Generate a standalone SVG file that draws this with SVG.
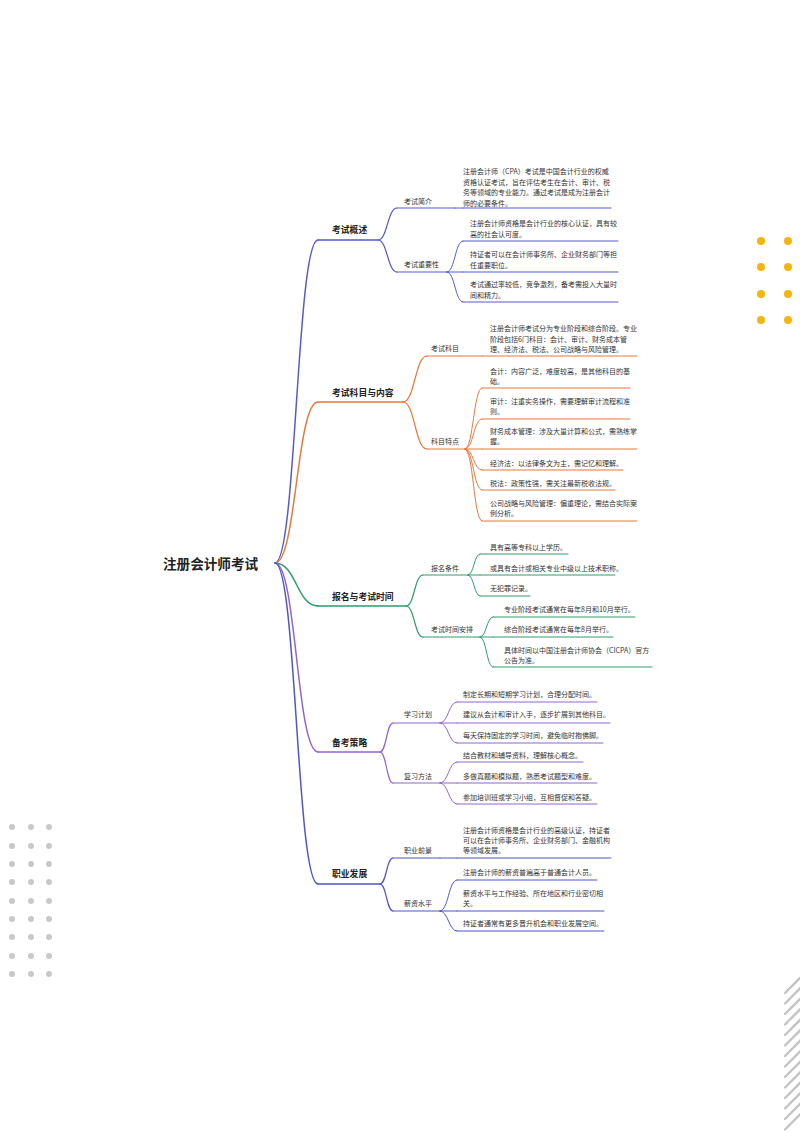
<svg xmlns="http://www.w3.org/2000/svg" width="800" height="1132" viewBox="0 0 800 1132">
<style>
text{font-family:"Noto Sans CJK SC","Liberation Sans",sans-serif;fill:#333;dominant-baseline:central}
.root{font-size:13.6px;font-weight:bold;fill:#222}
.l1{font-size:8.8px;font-weight:bold;fill:#222}
.l2{font-size:7px}
.lf{font-size:7px}
path,line{fill:none;stroke-linecap:round}
.c1{stroke:#555bcc}.c2{stroke:#e8783c}.c3{stroke:#2e9c6a}.c4{stroke:#8e66cc}.c5{stroke:#4f57c6}
.w1{stroke-width:1.5}.w2{stroke-width:1.2}.w3{stroke-width:1}
.ydot{fill:#f6b50e}.gdot{fill:#c9c9c9}
.stripe{stroke:#c4c4c4;stroke-width:2.4}
</style>
<rect width="800" height="1132" fill="#fff"/>
<g id="decor">
<g id="yellow-dots">
<circle class="ydot" cx="761" cy="241" r="4"/><circle class="ydot" cx="788" cy="241" r="4"/>
<circle class="ydot" cx="761" cy="267" r="4"/><circle class="ydot" cx="788" cy="267" r="4"/>
<circle class="ydot" cx="761" cy="294" r="4"/><circle class="ydot" cx="788" cy="294" r="4"/>
<circle class="ydot" cx="761" cy="320" r="4"/><circle class="ydot" cx="788" cy="320" r="4"/>
</g>
<g id="gray-dots">
<circle class="gdot" cx="12" cy="827" r="3"/><circle class="gdot" cx="31" cy="827" r="3"/><circle class="gdot" cx="49" cy="827" r="3"/>
<circle class="gdot" cx="12" cy="846" r="3"/><circle class="gdot" cx="31" cy="846" r="3"/><circle class="gdot" cx="49" cy="846" r="3"/>
<circle class="gdot" cx="12" cy="864" r="3"/><circle class="gdot" cx="31" cy="864" r="3"/><circle class="gdot" cx="49" cy="864" r="3"/>
<circle class="gdot" cx="12" cy="882" r="3"/><circle class="gdot" cx="31" cy="882" r="3"/><circle class="gdot" cx="49" cy="882" r="3"/>
<circle class="gdot" cx="12" cy="901" r="3"/><circle class="gdot" cx="31" cy="901" r="3"/><circle class="gdot" cx="49" cy="901" r="3"/>
<circle class="gdot" cx="12" cy="919" r="3"/><circle class="gdot" cx="31" cy="919" r="3"/><circle class="gdot" cx="49" cy="919" r="3"/>
<circle class="gdot" cx="12" cy="937" r="3"/><circle class="gdot" cx="31" cy="937" r="3"/><circle class="gdot" cx="49" cy="937" r="3"/>
<circle class="gdot" cx="12" cy="956" r="3"/><circle class="gdot" cx="31" cy="956" r="3"/><circle class="gdot" cx="49" cy="956" r="3"/>
<circle class="gdot" cx="12" cy="974" r="3"/><circle class="gdot" cx="31" cy="974" r="3"/><circle class="gdot" cx="49" cy="974" r="3"/>
</g>
<g id="stripes">
<line class="stripe" x1="785" y1="993" x2="802" y2="976"/>
<line class="stripe" x1="785" y1="1003.5" x2="802" y2="986.5"/>
<line class="stripe" x1="785" y1="1014" x2="802" y2="997"/>
<line class="stripe" x1="785" y1="1024.5" x2="802" y2="1007.5"/>
<line class="stripe" x1="785" y1="1035" x2="802" y2="1018"/>
<line class="stripe" x1="785" y1="1045.5" x2="802" y2="1028.5"/>
<line class="stripe" x1="785" y1="1056" x2="802" y2="1039"/>
<line class="stripe" x1="785" y1="1066.5" x2="802" y2="1049.5"/>
<line class="stripe" x1="785" y1="1077" x2="802" y2="1060"/>
<line class="stripe" x1="785" y1="1087.5" x2="802" y2="1070.5"/>
<line class="stripe" x1="785" y1="1098" x2="802" y2="1081"/>
<line class="stripe" x1="785" y1="1108.5" x2="802" y2="1091.5"/>
<line class="stripe" x1="785" y1="1119" x2="802" y2="1102"/>
<line class="stripe" x1="785" y1="1129.5" x2="802" y2="1112.5"/>
</g>
</g>
<g id="connectors">
<path class="c1 w1" d="M275 563 C296.5 563 296.5 240 318 240"/>
<path class="c2 w1" d="M275 563 C296.5 563 296.5 402 318 402"/>
<path class="c3 w1" d="M275 563 C296.5 563 296.5 606 318 606"/>
<path class="c4 w1" d="M275 563 C296.5 563 296.5 752 318 752"/>
<path class="c5 w1" d="M275 563 C296.5 563 296.5 884 318 884"/>
<path class="c1 w2" d="M378 240 C387.5 240 387.5 208 397 208"/>
<path class="c1 w2" d="M378 240 C387.5 240 387.5 272 397 272"/>
<path class="c1 w3" d="M455 208 L463 208"/>
<path class="c1 w3" d="M447 272 C455 272 455 241 463 241"/>
<path class="c1 w3" d="M447 272 L463 272"/>
<path class="c1 w3" d="M447 272 C455 272 455 302 463 302"/>
<path class="c2 w2" d="M403 402 C415 402 415 356 427 356"/>
<path class="c2 w2" d="M403 402 C415 402 415 449 427 449"/>
<path class="c2 w3" d="M460 356 L482 356"/>
<path class="c2 w3" d="M465 449 C473.5 449 473.5 388 482 388"/>
<path class="c2 w3" d="M465 449 C473.5 449 473.5 419 482 419"/>
<path class="c2 w3" d="M465 449 L482 449"/>
<path class="c2 w3" d="M465 449 C473.5 449 473.5 470 482 470"/>
<path class="c2 w3" d="M465 449 C473.5 449 473.5 490 482 490"/>
<path class="c2 w3" d="M465 449 C473.5 449 473.5 521 482 521"/>
<path class="c3 w2" d="M406 606 C414.5 606 414.5 575 423 575"/>
<path class="c3 w2" d="M406 606 C414.5 606 414.5 637 423 637"/>
<path class="c3 w3" d="M468 575 C474 575 474 554 480 554"/>
<path class="c3 w3" d="M468 575 L480 575"/>
<path class="c3 w3" d="M468 575 C474 575 474 596 480 596"/>
<path class="c3 w3" d="M480 637 C486.5 637 486.5 617 493 617"/>
<path class="c3 w3" d="M480 637 L493 637"/>
<path class="c3 w3" d="M480 637 C486.5 637 486.5 667 493 667"/>
<path class="c4 w2" d="M380 752 C386.5 752 386.5 723 393 723"/>
<path class="c4 w2" d="M380 752 C386.5 752 386.5 783 393 783"/>
<path class="c4 w3" d="M440 723 C448.5 723 448.5 702 457 702"/>
<path class="c4 w3" d="M440 723 L457 723"/>
<path class="c4 w3" d="M440 723 C448.5 723 448.5 743 457 743"/>
<path class="c4 w3" d="M440 783 C448.5 783 448.5 762 457 762"/>
<path class="c4 w3" d="M440 783 L457 783"/>
<path class="c4 w3" d="M440 783 C448.5 783 448.5 804 457 804"/>
<path class="c5 w2" d="M380 884 C386.5 884 386.5 858 393 858"/>
<path class="c5 w2" d="M380 884 C386.5 884 386.5 911 393 911"/>
<path class="c5 w3" d="M440 858 L457 858"/>
<path class="c5 w3" d="M440 911 C448.5 911 448.5 880 457 880"/>
<path class="c5 w3" d="M440 911 L457 911"/>
<path class="c5 w3" d="M440 911 C448.5 911 448.5 931 457 931"/>
</g>
<g id="root"><text class="root" x="163" y="563">注册会计师考试</text></g>

<g id="s1"><line class="c1 w1" x1="318" y1="240" x2="378" y2="240"/><text class="l1" x="332" y="229">考试概述</text></g>
<g id="s1-a"><line class="c1 w2" x1="397" y1="208" x2="455" y2="208"/><text class="l2" x="404" y="201">考试简介</text></g>
<g id="s1-a1"><line class="c1 w3" x1="463" y1="208" x2="611" y2="208"/>
<text class="lf" x="463" y="171">注册会计师（CPA）考试是中国会计行业的权威</text>
<text class="lf" x="463" y="181.5">资格认证考试，旨在评估考生在会计、审计、税</text>
<text class="lf" x="463" y="192">务等领域的专业能力。通过考试是成为注册会计</text>
<text class="lf" x="463" y="202.5">师的必要条件。</text></g>
<g id="s1-b"><line class="c1 w2" x1="397" y1="272" x2="447" y2="272"/><text class="l2" x="404" y="264">考试重要性</text></g>
<g id="s1-b1"><line class="c1 w3" x1="463" y1="241" x2="618" y2="241"/>
<text class="lf" x="470" y="223">注册会计师资格是会计行业的核心认证，具有较</text>
<text class="lf" x="470" y="233.5">高的社会认可度。</text></g>
<g id="s1-b2"><line class="c1 w3" x1="463" y1="272" x2="618" y2="272"/>
<text class="lf" x="470" y="254">持证者可以在会计师事务所、企业财务部门等担</text>
<text class="lf" x="470" y="264.5">任重要职位。</text></g>
<g id="s1-b3"><line class="c1 w3" x1="463" y1="302" x2="618" y2="302"/>
<text class="lf" x="470" y="284">考试通过率较低，竞争激烈，备考需投入大量时</text>
<text class="lf" x="470" y="294.5">间和精力。</text></g>

<g id="s2"><line class="c2 w1" x1="318" y1="402" x2="403" y2="402"/><text class="l1" x="332" y="392">考试科目与内容</text></g>
<g id="s2-a"><line class="c2 w2" x1="427" y1="356" x2="460" y2="356"/><text class="l2" x="431" y="348">考试科目</text></g>
<g id="s2-a1"><line class="c2 w3" x1="482" y1="356" x2="637" y2="356"/>
<text class="lf" x="490" y="328">注册会计师考试分为专业阶段和综合阶段。专业</text>
<text class="lf" x="490" y="338.5">阶段包括6门科目：会计、审计、财务成本管</text>
<text class="lf" x="490" y="349">理、经济法、税法、公司战略与风险管理。</text></g>
<g id="s2-b"><line class="c2 w2" x1="427" y1="449" x2="465" y2="449"/><text class="l2" x="431" y="441">科目特点</text></g>
<g id="s2-b1"><line class="c2 w3" x1="482" y1="388" x2="630" y2="388"/>
<text class="lf" x="490" y="371">会计：内容广泛，难度较高，是其他科目的基</text>
<text class="lf" x="490" y="381">础。</text></g>
<g id="s2-b2"><line class="c2 w3" x1="482" y1="419" x2="630" y2="419"/>
<text class="lf" x="490" y="401">审计：注重实务操作，需要理解审计流程和准</text>
<text class="lf" x="490" y="411">则。</text></g>
<g id="s2-b3"><line class="c2 w3" x1="482" y1="449" x2="637" y2="449"/>
<text class="lf" x="490" y="431">财务成本管理：涉及大量计算和公式，需熟练掌</text>
<text class="lf" x="490" y="441">握。</text></g>
<g id="s2-b4"><line class="c2 w3" x1="482" y1="470" x2="623" y2="470"/>
<text class="lf" x="490" y="463">经济法：以法律条文为主，需记忆和理解。</text></g>
<g id="s2-b5"><line class="c2 w3" x1="482" y1="490" x2="615" y2="490"/>
<text class="lf" x="490" y="483">税法：政策性强，需关注最新税收法规。</text></g>
<g id="s2-b6"><line class="c2 w3" x1="482" y1="521" x2="637" y2="521"/>
<text class="lf" x="490" y="503">公司战略与风险管理：偏重理论，需结合实际案</text>
<text class="lf" x="490" y="513">例分析。</text></g>

<g id="s3"><line class="c3 w1" x1="318" y1="606" x2="406" y2="606"/><text class="l1" x="332" y="596">报名与考试时间</text></g>
<g id="s3-a"><line class="c3 w2" x1="423" y1="575" x2="468" y2="575"/><text class="l2" x="431" y="568">报名条件</text></g>
<g id="s3-a1"><line class="c3 w3" x1="480" y1="554" x2="568" y2="554"/><text class="lf" x="490" y="547">具有高等专科以上学历。</text></g>
<g id="s3-a2"><line class="c3 w3" x1="480" y1="575" x2="615" y2="575"/><text class="lf" x="490" y="568">或具有会计或相关专业中级以上技术职称。</text></g>
<g id="s3-a3"><line class="c3 w3" x1="480" y1="596" x2="530" y2="596"/><text class="lf" x="490" y="588">无犯罪记录。</text></g>
<g id="s3-b"><line class="c3 w2" x1="423" y1="637" x2="480" y2="637"/><text class="l2" x="431" y="629">考试时间安排</text></g>
<g id="s3-b1"><line class="c3 w3" x1="493" y1="617" x2="635" y2="617"/><text class="lf" x="504" y="609">专业阶段考试通常在每年8月和10月举行。</text></g>
<g id="s3-b2"><line class="c3 w3" x1="493" y1="637" x2="613" y2="637"/><text class="lf" x="504" y="629">综合阶段考试通常在每年8月举行。</text></g>
<g id="s3-b3"><line class="c3 w3" x1="493" y1="667" x2="652" y2="667"/>
<text class="lf" x="504" y="650">具体时间以中国注册会计师协会（CICPA）官方</text>
<text class="lf" x="504" y="660">公告为准。</text></g>

<g id="s4"><line class="c4 w1" x1="318" y1="752" x2="380" y2="752"/><text class="l1" x="332" y="742">备考策略</text></g>
<g id="s4-a"><line class="c4 w2" x1="393" y1="723" x2="440" y2="723"/><text class="l2" x="404" y="714">学习计划</text></g>
<g id="s4-a1"><line class="c4 w3" x1="457" y1="702" x2="597" y2="702"/><text class="lf" x="463" y="694">制定长期和短期学习计划，合理分配时间。</text></g>
<g id="s4-a2"><line class="c4 w3" x1="457" y1="723" x2="610" y2="723"/><text class="lf" x="463" y="714">建议从会计和审计入手，逐步扩展到其他科目。</text></g>
<g id="s4-a3"><line class="c4 w3" x1="457" y1="743" x2="603" y2="743"/><text class="lf" x="463" y="735">每天保持固定的学习时间，避免临时抱佛脚。</text></g>
<g id="s4-b"><line class="c4 w2" x1="393" y1="783" x2="440" y2="783"/><text class="l2" x="404" y="776">复习方法</text></g>
<g id="s4-b1"><line class="c4 w3" x1="457" y1="762" x2="583" y2="762"/><text class="lf" x="463" y="755">结合教材和辅导资料，理解核心概念。</text></g>
<g id="s4-b2"><line class="c4 w3" x1="457" y1="783" x2="597" y2="783"/><text class="lf" x="463" y="776">多做真题和模拟题，熟悉考试题型和难度。</text></g>
<g id="s4-b3"><line class="c4 w3" x1="457" y1="804" x2="597" y2="804"/><text class="lf" x="463" y="797">参加培训班或学习小组，互相督促和答疑。</text></g>

<g id="s5"><line class="c5 w1" x1="318" y1="884" x2="380" y2="884"/><text class="l1" x="332" y="873">职业发展</text></g>
<g id="s5-a"><line class="c5 w2" x1="393" y1="858" x2="440" y2="858"/><text class="l2" x="404" y="850">职业前景</text></g>
<g id="s5-a1"><line class="c5 w3" x1="457" y1="858" x2="611" y2="858"/>
<text class="lf" x="463" y="830">注册会计师资格是会计行业的高级认证，持证者</text>
<text class="lf" x="463" y="840">可以在会计师事务所、企业财务部门、金融机构</text>
<text class="lf" x="463" y="850">等领域发展。</text></g>
<g id="s5-b"><line class="c5 w2" x1="393" y1="911" x2="440" y2="911"/><text class="l2" x="404" y="903">薪资水平</text></g>
<g id="s5-b1"><line class="c5 w3" x1="457" y1="880" x2="597" y2="880"/><text class="lf" x="463" y="872">注册会计师的薪资普遍高于普通会计人员。</text></g>
<g id="s5-b2"><line class="c5 w3" x1="457" y1="911" x2="604" y2="911"/>
<text class="lf" x="463" y="893">薪资水平与工作经验、所在地区和行业密切相</text>
<text class="lf" x="463" y="903">关。</text></g>
<g id="s5-b3"><line class="c5 w3" x1="457" y1="931" x2="604" y2="931"/><text class="lf" x="463" y="923">持证者通常有更多晋升机会和职业发展空间。</text></g>
</svg>
